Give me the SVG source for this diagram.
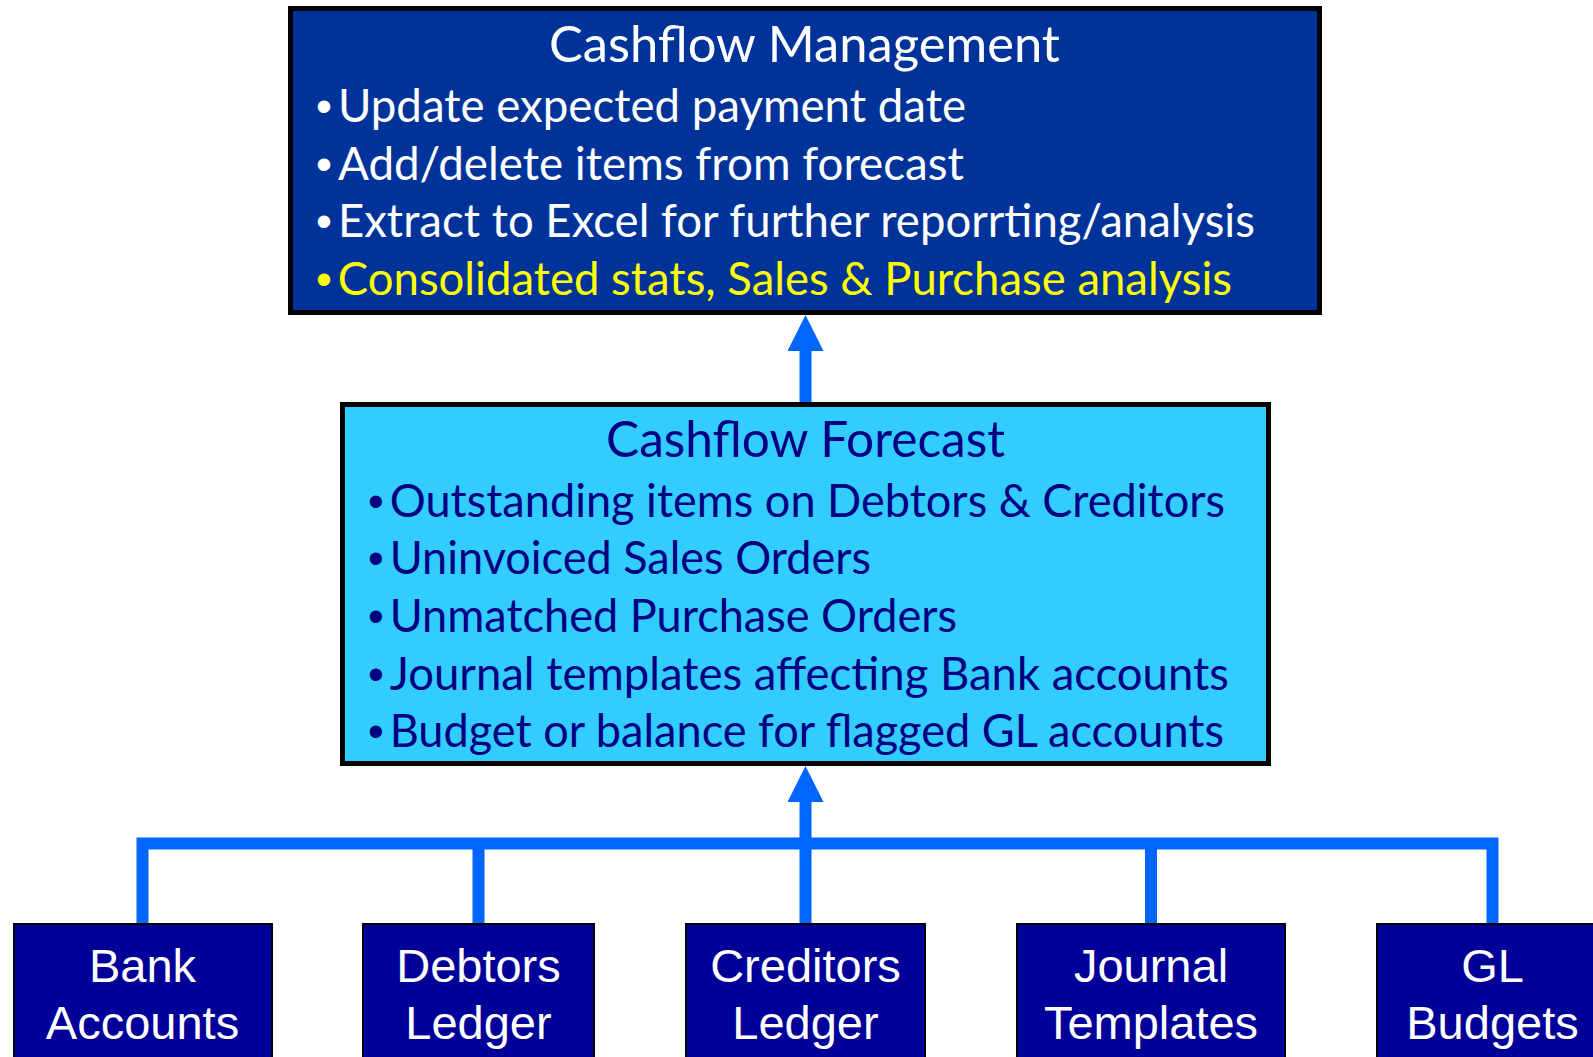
<svg xmlns="http://www.w3.org/2000/svg" width="1593" height="1057" viewBox="0 0 1593 1057">
<style>
.t1{fill:#003399;stroke:#000;stroke-width:5}
.t2{fill:#33CCFF;stroke:#000;stroke-width:5}
.src{fill:#000099;stroke:#000;stroke-width:2}
.hum{font-family:Lato,"Open Sans","Liberation Sans",sans-serif;font-size:46px}
.b{font-family:"Liberation Sans",Arial,sans-serif}
.ttl{font-family:Lato,"Open Sans","Liberation Sans",sans-serif;font-size:51px;text-anchor:middle}
.w{fill:#fff}
.y{fill:#FFFF00}
.n{fill:#000080}
.lbl{font-family:"Liberation Sans",Arial,sans-serif;font-size:47px;fill:#fff;text-anchor:middle}
.con{fill:none;stroke:#0066FF;stroke-width:12;stroke-linejoin:miter;stroke-linecap:butt}
</style>
<defs>
<marker id="ah" markerUnits="userSpaceOnUse" markerWidth="36" markerHeight="36" viewBox="0 0 36 36" refX="0" refY="18" orient="auto">
<path d="M0,0 L36,18 L0,36 Z" fill="#0066FF"/>
</marker>
</defs>
<rect width="1593" height="1057" fill="#fff"/>
<g id="connectors">
<path class="con" d="M142.5,923 V843.5 H1492.5 V923"/>
<path class="con" d="M478.5,843.5 V923"/>
<path class="con" d="M1151,843.5 V923"/>
<path class="con" d="M805.5,923 V802" marker-end="url(#ah)"/>
<path class="con" d="M805.5,402 V351" marker-end="url(#ah)"/>
</g>
<g id="cashflow-management">
<rect class="t1" x="290.5" y="8.5" width="1029" height="304"/>
<text class="ttl w" x="804.5" y="62" textLength="511" lengthAdjust="spacingAndGlyphs">Cashflow Management</text>
<text class="hum w" x="316" y="121.5" textLength="650" lengthAdjust="spacingAndGlyphs"><tspan class="b">•</tspan><tspan dx="6">Update expected payment date</tspan></text>
<text class="hum w" x="316" y="179.5" textLength="648" lengthAdjust="spacingAndGlyphs"><tspan class="b">•</tspan><tspan dx="6">Add/delete items from forecast</tspan></text>
<text class="hum w" x="316" y="237" textLength="939" lengthAdjust="spacingAndGlyphs"><tspan class="b">•</tspan><tspan dx="6">Extract to Excel for further reporrting/analysis</tspan></text>
<text class="hum y" x="316" y="294.5" textLength="916" lengthAdjust="spacingAndGlyphs"><tspan class="b">•</tspan><tspan dx="6">Consolidated stats, Sales &amp; Purchase analysis</tspan></text>
</g>
<g id="cashflow-forecast">
<rect class="t2" x="342.5" y="404.5" width="926" height="359"/>
<text class="ttl n" x="805.5" y="456.5" textLength="399" lengthAdjust="spacingAndGlyphs">Cashflow Forecast</text>
<text class="hum n" x="368" y="516.5" textLength="857" lengthAdjust="spacingAndGlyphs"><tspan class="b">•</tspan><tspan dx="6">Outstanding items on Debtors &amp; Creditors</tspan></text>
<text class="hum n" x="368" y="573.5" textLength="503" lengthAdjust="spacingAndGlyphs"><tspan class="b">•</tspan><tspan dx="6">Uninvoiced Sales Orders</tspan></text>
<text class="hum n" x="368" y="631.5" textLength="589" lengthAdjust="spacingAndGlyphs"><tspan class="b">•</tspan><tspan dx="6">Unmatched Purchase Orders</tspan></text>
<text class="hum n" x="368" y="689.5" textLength="861" lengthAdjust="spacingAndGlyphs"><tspan class="b">•</tspan><tspan dx="6">Journal templates affecting Bank accounts</tspan></text>
<text class="hum n" x="368" y="746.5" textLength="856" lengthAdjust="spacingAndGlyphs"><tspan class="b">•</tspan><tspan dx="6">Budget or balance for flagged GL accounts</tspan></text>
</g>
<g id="bank-accounts">
<rect class="src" x="14" y="924" width="258" height="150"/>
<text class="lbl" x="142.5" y="981.5">Bank</text>
<text class="lbl" x="142.5" y="1039">Accounts</text>
</g>
<g id="debtors-ledger">
<rect class="src" x="363" y="924" width="231" height="150"/>
<text class="lbl" x="478.5" y="981.5">Debtors</text>
<text class="lbl" x="478.5" y="1039">Ledger</text>
</g>
<g id="creditors-ledger">
<rect class="src" x="686" y="924" width="239" height="150"/>
<text class="lbl" x="805.5" y="981.5">Creditors</text>
<text class="lbl" x="805.5" y="1039">Ledger</text>
</g>
<g id="journal-templates">
<rect class="src" x="1017" y="924" width="268" height="150"/>
<text class="lbl" x="1151" y="981.5">Journal</text>
<text class="lbl" x="1151" y="1039">Templates</text>
</g>
<g id="gl-budgets">
<rect class="src" x="1377" y="924" width="240" height="150"/>
<text class="lbl" x="1492.5" y="981.5">GL</text>
<text class="lbl" x="1492.5" y="1039">Budgets</text>
</g>
</svg>
